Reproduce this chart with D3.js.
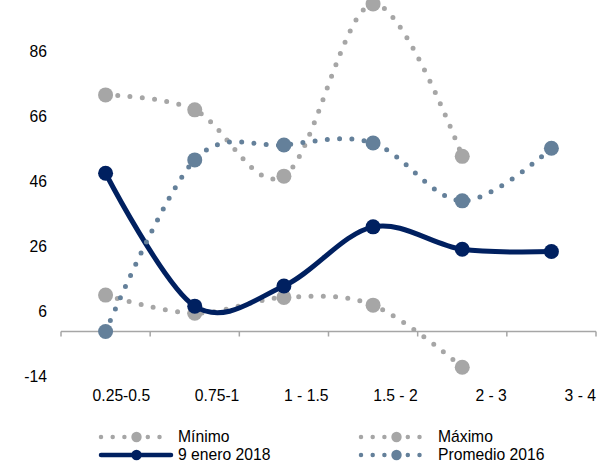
<!DOCTYPE html>
<html>
<head>
<meta charset="utf-8">
<script src="https://cdn.jsdelivr.net/npm/d3@7"></script>
<style>
  html, body { margin: 0; padding: 0; background: #fff; }
  svg { display: block; font-family: "Liberation Sans", Arial, sans-serif; }
</style>
</head>
<body>
<svg id="chart" width="604" height="473"></svg>
<script>
// Plazos (años) en el eje horizontal
const categories = ["0.25-0.5", "0.75-1", "1 - 1.5", "1.5 - 2", "2 - 3", "3 - 4"];
const yTicks = [-14, 6, 26, 46, 66, 86];

const minimo    = [11.2, 5.6, 10.5, 8.1, -11.0, null];
const maximo    = [72.8, 68.2, 47.8, 100.8, 53.9, null];
const enero2018 = [48.7, 7.8, 14.0, 32.2, 25.3, 24.6];
const prom2016  = [0.0, 52.8, 57.4, 58.0, 40.2, 56.4];

const GRAY = "#a6a6a6", NAVY = "#002060", STEEL = "#64809a";

const series = [
  { name: "Mínimo",         values: minimo,    color: GRAY,  dotted: true },
  { name: "Máximo",         values: maximo,    color: GRAY,  dotted: true },
  { name: "9 enero 2018",   values: enero2018, color: NAVY,  dotted: false },
  { name: "Promedio 2016",  values: prom2016,  color: STEEL, dotted: true }
];

const svg = d3.select("#chart");
const FONT = 15.7;

const x = d3.scaleBand().domain(categories).range([61, 596]).padding(0);
const y = d3.scaleLinear().domain([-14, 86]).range([377, 52]);
const cx = c => x(c) + x.bandwidth() / 2;

// Eje vertical: solo etiquetas
svg.append("g").selectAll("text").data(yTicks).join("text")
  .attr("x", 47).attr("y", d => y(d)).attr("dy", "0.35em")
  .attr("text-anchor", "end").attr("font-size", FONT).attr("fill", "#000")
  .text(d => d);

// Eje horizontal en cero
const axisY = y(0);
const xAxis = svg.append("g").attr("transform", `translate(0,${axisY})`);
xAxis.append("line").attr("x1", 61).attr("x2", 596).attr("stroke", GRAY).attr("stroke-width", 1.5);
const bounds = [x(categories[0])].concat(categories.map(c => x(c) + x.bandwidth()));
xAxis.selectAll("line.tick").data(bounds).join("line").attr("class", "tick")
  .attr("x1", d => d).attr("x2", d => d).attr("y1", 0).attr("y2", 5)
  .attr("stroke", GRAY).attr("stroke-width", 1.5);

// Etiquetas de categoría alineadas al borde derecho de cada intervalo
svg.append("g").selectAll("text").data(categories).join("text")
  .attr("x", c => x(c) + x.bandwidth()).attr("y", 401)
  .attr("text-anchor", "end").attr("font-size", FONT).attr("fill", "#000")
  .text(c => c);

const line = d3.line()
  .defined(d => d.v !== null)
  .x(d => cx(d.c)).y(d => y(d.v))
  .curve(d3.curveCardinal.tension(0));

const plot = svg.append("g");
series.forEach(s => {
  const pts = categories.map((c, i) => ({ c, v: s.values[i] }));
  const g = plot.append("g");
  const path = g.append("path").datum(pts).attr("d", line)
    .attr("fill", "none").attr("stroke", s.color)
    .attr("stroke-linecap", "round").attr("stroke-linejoin", "round");
  if (s.dotted) {
    path.attr("stroke-width", 5).attr("stroke-dasharray", "0 12.3");
  } else {
    path.attr("stroke-width", 5);
  }
  g.selectAll("circle").data(pts.filter(d => d.v !== null)).join("circle")
    .attr("cx", d => cx(d.c)).attr("cy", d => y(d.v))
    .attr("r", 7.5).attr("fill", s.color);
});

// Leyenda en dos columnas
const legend = [
  { s: series[0], x: 101, y: 437 },
  { s: series[1], x: 361, y: 437 },
  { s: series[2], x: 101, y: 455 },
  { s: series[3], x: 361, y: 455 }
];
legend.forEach(({ s, x: lx, y: ly }) => {
  const g = svg.append("g");
  if (s.dotted) {
    g.append("line").attr("x1", lx).attr("x2", lx + 70).attr("y1", ly).attr("y2", ly)
      .attr("stroke", s.color).attr("stroke-width", 4.5)
      .attr("stroke-linecap", "round").attr("stroke-dasharray", "0 11.7");
  } else {
    g.append("line").attr("x1", lx).attr("x2", lx + 70).attr("y1", ly).attr("y2", ly)
      .attr("stroke", s.color).attr("stroke-width", 4.5).attr("stroke-linecap", "round");
  }
  g.append("circle").attr("cx", lx + 35.5).attr("cy", ly).attr("r", 5.2).attr("fill", s.color);
  g.append("text").attr("x", lx + 77).attr("y", ly).attr("dy", "0.35em")
    .attr("font-size", FONT).attr("fill", "#000").text(s.name);
});
</script>
</body>
</html>
